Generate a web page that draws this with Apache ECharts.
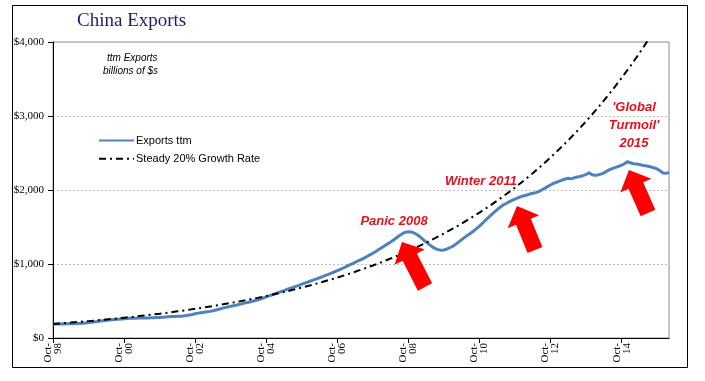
<!DOCTYPE html>
<html><head><meta charset="utf-8">
<script src="https://cdn.jsdelivr.net/npm/echarts@6/dist/echarts.min.js"></script>
<style>html,body{margin:0;padding:0;background:#fff}#c{width:705px;height:381px}</style>
</head><body><div id="c"></div>
<script>
// Monthly categories: Oct-98 .. Feb-16
const monthNames = ['Jan','Feb','Mar','Apr','May','Jun','Jul','Aug','Sep','Oct','Nov','Dec'];
const firstYear = 1998, firstMonth = 9, monthCount = 209;
const categories = [];
for (let i = 0; i < monthCount; i++) {
  const m = (firstMonth + i) % 12, y = firstYear + Math.floor((firstMonth + i) / 12);
  categories.push(monthNames[m] + '-' + String(y % 100).padStart(2, '0'));
}

// Exports, trailing twelve months, billions of $ (monthly)
const exportsTtm = [
  190,189,190,191,190,191,192,193,195,197,
  200,204,208,213,218,223,229,234,239,243,
  247,251,255,258,261,264,266,267,268,269,
  270,270,271,272,274,276,278,281,284,287,
  289,291,293,295,298,303,310,318,327,336,
  342,348,354,360,368,378,389,400,410,419,
  428,437,446,456,465,475,484,494,503,513,
  527,541,555,569,583,598,612,627,641,656,
  671,684,698,712,727,741,756,770,785,800,
  814,829,845,860,876,892,910,928,946,965,
  984,1003,1022,1041,1060,1080,1101,1123,1146,1170,
  1195,1220,1246,1272,1298,1325,1355,1385,1410,1430,
  1437,1433,1418,1395,1365,1330,1296,1265,1235,1210,
  1194,1187,1190,1202,1220,1240,1268,1298,1330,1360,
  1388,1415,1445,1478,1512,1548,1590,1628,1665,1700,
  1735,1768,1797,1818,1840,1860,1878,1895,1910,1922,
  1933,1945,1955,1965,1978,2000,2022,2045,2068,2090,
  2105,2120,2135,2148,2158,2150,2165,2175,2182,2195,
  2210,2232,2206,2200,2204,2215,2230,2255,2275,2293,
  2305,2320,2335,2355,2385,2368,2355,2350,2345,2335,
  2328,2320,2310,2298,2284,2260,2228,2225,2238
];

// Steady 20% growth reference, one reading every 3 months from Oct-98
const growthStepMonths = 3;
const growthRate = [
  190,199,208,218,228,239,250,261,274,286,
  300,314,328,344,360,376,394,412,432,452,
  473,495,518,542,567,594,622,651,681,713,
  746,781,817,855,895,937,980,1026,1074,1124,
  1177,1231,1289,1349,1412,1478,1547,1619,1694,1773,
  1856,1943,2033,2128,2227,2331,2440,2554,2673,2798,
  2928,3065,3208,3357,3514,3678,3849,4029
];

const yTicks = [0, 1000, 2000, 3000, 4000];

const chart = echarts.init(document.getElementById('c'));
const serif = 'Liberation Serif';
const sans = 'Liberation Sans';

function arrow(tip, tail) {
  const dx = tip[0] - tail[0], dy = tip[1] - tail[1];
  const L = Math.hypot(dx, dy), ux = dx / L, uy = dy / L, nx = -uy, ny = ux;
  const headLen = 17, hw = 17, sw = 8;
  const hx = tip[0] - ux * headLen, hy = tip[1] - uy * headLen;
  return {
    type: 'polygon', z: 10,
    shape: { points: [
      tip,
      [hx + nx * hw, hy + ny * hw],
      [hx + nx * sw, hy + ny * sw],
      [tail[0] + nx * sw, tail[1] + ny * sw],
      [tail[0] - nx * sw, tail[1] - ny * sw],
      [hx - nx * sw, hy - ny * sw],
      [hx - nx * hw, hy - ny * hw]
    ] },
    style: { fill: '#ff0000' }
  };
}
const annStyle = { fill: '#e8101a', font: 'italic bold 13px "Liberation Sans"' };

chart.setOption({
  animation: false,
  backgroundColor: '#fff',
  grid: { left: 53, right: 36, top: 42, bottom: 43, show: true, borderColor: '#8c8c8c', borderWidth: 1, backgroundColor: 'transparent' },
  legend: {
    orient: 'vertical', left: 98, top: 135, padding: 0, itemWidth: 35, itemHeight: 14, itemGap: 7,
    itemStyle: { opacity: 0 },
    textStyle: { fontFamily: sans, fontSize: 11, color: '#000', padding: [0, 0, 0, -3] },
    data: ['Exports ttm', 'Steady 20% Growth Rate']
  },
  xAxis: {
    type: 'category', data: categories, boundaryGap: false,
    axisLine: { lineStyle: { color: '#000', width: 1 } },
    axisTick: { show: true, interval: (i) => i % 24 === 0, length: 5, lineStyle: { color: '#000' } },
    axisLabel: {
      interval: (i) => i % 24 === 0, rotate: 90, margin: 5,
      fontFamily: serif, fontSize: 11, color: '#000', lineHeight: 10,
      formatter: (v) => v.replace('-', '-\n')
    },
    splitLine: { show: false }
  },
  yAxis: {
    type: 'value', min: yTicks[0], max: yTicks[yTicks.length - 1], interval: 1000,
    axisLine: { show: true, lineStyle: { color: '#000', width: 1 } },
    axisTick: { show: true, length: 5, lineStyle: { color: '#000' } },
    axisLabel: { fontFamily: serif, fontSize: 11, color: '#000', margin: 9,
      formatter: (v) => '$' + v.toLocaleString('en-US') },
    splitLine: { show: true, lineStyle: { color: '#bcbcbc', type: [2, 2], width: 1 } }
  },
  series: [
    {
      name: 'Exports ttm', type: 'line', data: exportsTtm, symbol: 'none', z: 3,
      lineStyle: { color: '#4f81bd', width: 3 }, itemStyle: { color: '#4f81bd' }
    },
    {
      name: 'Steady 20% Growth Rate', type: 'line', symbol: 'none', z: 4,
      data: growthRate.map((v, i) => [i * growthStepMonths, v]),
      lineStyle: { color: '#000', width: 2, type: [7, 4, 2, 4] }, itemStyle: { color: '#000' }
    }
  ],
  graphic: [
    { type: 'rect', shape: { x: 12.5, y: 5.5, width: 675, height: 362 }, style: { fill: 'none', stroke: '#000', lineWidth: 1 }, z: 0, silent: true },
    { type: 'text', left: 77, top: 12, style: { text: 'China Exports', fill: '#1c1c74', font: '19px "Liberation Serif"' } },
    { type: 'text', left: 107, top: 53, style: { text: 'ttm Exports', fill: '#000', font: 'italic 10px "Liberation Sans"' } },
    { type: 'text', left: 103, top: 66, style: { text: 'billions of $s', fill: '#000', font: 'italic 10px "Liberation Sans"' } },
    { type: 'text', x: 394, y: 221, style: Object.assign({ text: 'Panic 2008', align: 'center', verticalAlign: 'middle' }, annStyle) },
    { type: 'text', x: 481, y: 181, style: Object.assign({ text: 'Winter 2011', align: 'center', verticalAlign: 'middle' }, annStyle) },
    { type: 'text', x: 634, y: 107, style: Object.assign({ text: "'Global", align: 'center', verticalAlign: 'middle' }, annStyle) },
    { type: 'text', x: 634, y: 125, style: Object.assign({ text: "Turmoil'", align: 'center', verticalAlign: 'middle' }, annStyle) },
    { type: 'text', x: 634, y: 143, style: Object.assign({ text: '2015', align: 'center', verticalAlign: 'middle' }, annStyle) },
    arrow([402, 242], [425, 287]),
    arrow([517, 206], [535, 250]),
    arrow([629, 170], [648, 213])
  ]
});
</script>
</body></html>
